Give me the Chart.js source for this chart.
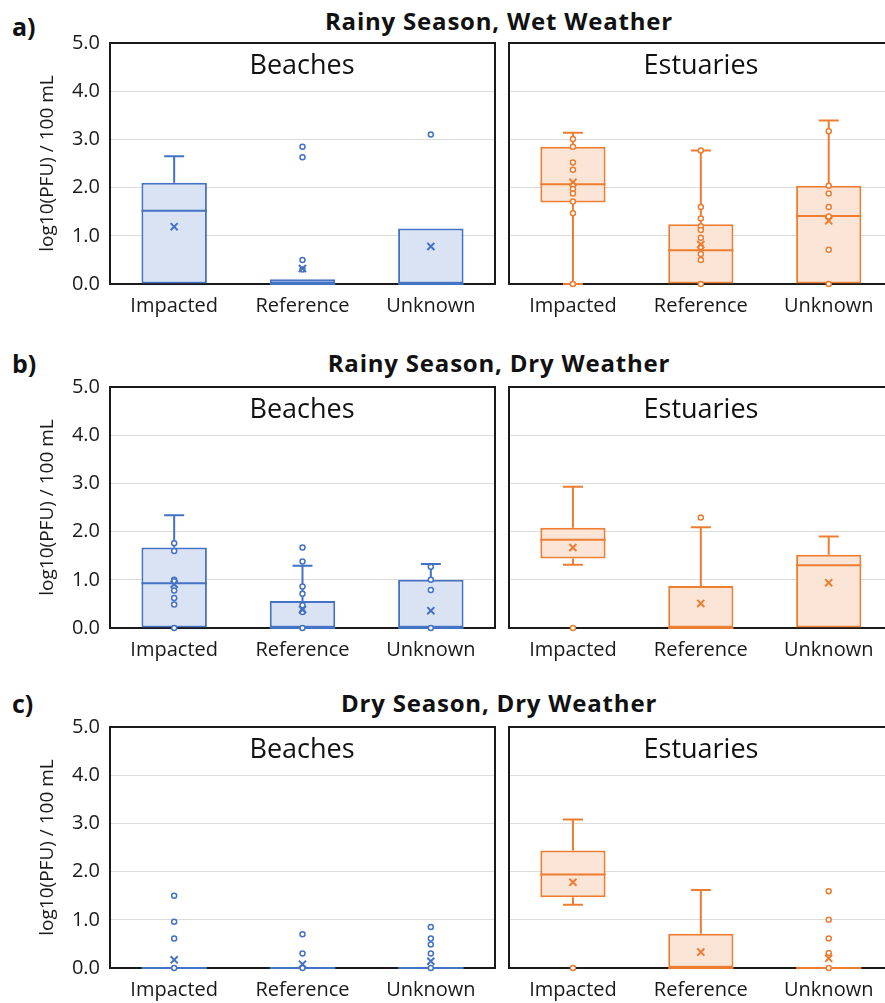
<!DOCTYPE html>
<html>
<head>
<meta charset="utf-8">
<script src="https://cdn.jsdelivr.net/npm/chart.js@4.4.1/dist/chart.umd.min.js"></script>
<style>
    html, body { margin: 0; padding: 0; background: #fff; overflow: hidden; width: 885px; height: 1003px; }
    body { position: relative; font-family: 'Open Sans', sans-serif; color: #111; }
    .rowtitle { position: absolute; left: 499px; font-weight: bold; font-size: 24px; letter-spacing: 0.8px; white-space: nowrap; transform: translate(-50%, -50%); }
    .letter { position: absolute; left: 12px; font-weight: bold; font-size: 25px; transform: translateY(-50%); }
    canvas { position: absolute; }
</style>
</head>
<body>
<div class="letter" style="top:26px">a)</div>
<div class="rowtitle" style="top:20px">Rainy Season, Wet Weather</div>
<canvas id="aBeaches" width="500" height="293" style="left:0;top:31px"></canvas>
<canvas id="aEstuaries" width="385" height="293" style="left:500px;top:31px"></canvas>

<div class="letter" style="top:363px">b)</div>
<div class="rowtitle" style="top:362px">Rainy Season, Dry Weather</div>
<canvas id="bBeaches" width="500" height="293" style="left:0;top:375px"></canvas>
<canvas id="bEstuaries" width="385" height="293" style="left:500px;top:375px"></canvas>

<div class="letter" style="top:703px">c)</div>
<div class="rowtitle" style="top:702px">Dry Season, Dry Weather</div>
<canvas id="cBeaches" width="500" height="293" style="left:0;top:715px"></canvas>
<canvas id="cEstuaries" width="385" height="293" style="left:500px;top:715px"></canvas>

<script>
const categories = ['Impacted', 'Reference', 'Unknown'];
const yTicks = [0, 1, 2, 3, 4, 5];

// box per category: [whisker low, q1, median, q3, whisker high]
// a) Rainy season, wet weather
const aBeachBoxes = [[0, 0, 1.52, 2.10, 2.65], [0, 0, 0, 0.10, 0.10], [0, 0, 0, 1.15, 1.15]];
const aBeachMeans = [1.19, 0.32, 0.78];
const aBeachPoints = [[], [2.85, 2.63, 0.50, 0.30], [3.10]];

const aEstuaryBoxes = [[0, 1.69, 2.07, 2.85, 3.14], [0, 0, 0.70, 1.24, 2.77], [0, 0, 1.41, 2.04, 3.39]];
const aEstuaryMeans = [2.11, 0.82, 1.31];
const aEstuaryPoints = [
    [3.01, 2.85, 2.52, 2.37, 2.05, 1.97, 1.88, 1.71, 1.47, 0],
    [2.77, 1.60, 1.36, 1.20, 1.12, 0.96, 0.77, 0.62, 0.50, 0],
    [3.17, 2.04, 1.88, 1.60, 1.40, 0.71, 0]
];

// b) Rainy season, dry weather
const bBeachBoxes = [[0, 0, 0.93, 1.67, 2.34], [0, 0, 0, 0.56, 1.29], [0, 0, 0, 1.00, 1.33]];
const bBeachMeans = [0.91, 0.38, 0.36];
const bBeachPoints = [
    [1.76, 1.60, 1.00, 0.97, 0.78, 0.62, 0.49, 0],
    [1.67, 1.38, 0.86, 0.71, 0.47, 0.33, 0],
    [1.27, 1.00, 0.79, 0]
];

const bEstuaryBoxes = [[1.31, 1.44, 1.83, 2.08, 2.93], [0, 0, 0, 0.87, 2.09], [0, 0, 1.30, 1.52, 1.90]];
const bEstuaryMeans = [1.67, 0.51, 0.94];
const bEstuaryPoints = [[0], [2.29], []];

// c) Dry season, dry weather
const cBeachBoxes = [[0, 0, 0, 0, 0], [0, 0, 0, 0, 0], [0, 0, 0, 0, 0]];
const cBeachMeans = [0.17, 0.08, 0.14];
const cBeachPoints = [[1.50, 0.96, 0.61, 0], [0.70, 0.30, 0], [0.85, 0.61, 0.49, 0.30, 0]];

const cEstuaryBoxes = [[1.31, 1.47, 1.94, 2.44, 3.08], [0, 0, 0, 0.71, 1.62], [0, 0, 0, 0, 0]];
const cEstuaryMeans = [1.78, 0.33, 0.20];
const cEstuaryPoints = [[0], [], [1.59, 1.00, 0.61, 0.31, 0]];

const BLUE = '#4472C4', BLUE_FILL = '#DAE3F3';
const ORANGE = '#ED7D31', ORANGE_FILL = '#FBE5D6';

Chart.defaults.font.family = "'Open Sans', sans-serif";
Chart.defaults.color = '#1a1a1a';

// whiskers, caps and median lines, drawn right after the boxes
const boxParts = {
    id: 'boxParts',
    afterDatasetDraw(chart, args, opts) {
        if (args.index !== 0) return;
        const ctx = chart.ctx;
        const x = chart.scales.x, y = chart.scales.y;
        const bars = chart.getDatasetMeta(0).data;
        ctx.save();
        ctx.strokeStyle = opts.color;
        ctx.lineWidth = 2;
        opts.boxes.forEach((b, i) => {
            const cx = x.getPixelForValue(i);
            const half = bars[i].width / 2;
            const [lo, q1, med, q3, hi] = b;
            ctx.beginPath();
            if (hi > q3) {
                ctx.moveTo(cx, y.getPixelForValue(q3));
                ctx.lineTo(cx, y.getPixelForValue(hi));
                ctx.moveTo(cx - 10, y.getPixelForValue(hi));
                ctx.lineTo(cx + 10, y.getPixelForValue(hi));
            }
            if (lo < q1) {
                ctx.moveTo(cx, y.getPixelForValue(q1));
                ctx.lineTo(cx, y.getPixelForValue(lo));
                ctx.moveTo(cx - 10, y.getPixelForValue(lo));
                ctx.lineTo(cx + 10, y.getPixelForValue(lo));
            }
            ctx.moveTo(cx - half, y.getPixelForValue(med));
            ctx.lineTo(cx + half, y.getPixelForValue(med));
            ctx.stroke();
        });
        ctx.restore();
    }
};

// black frame round the plot and the panel name inside it
// (right-hand panels are cut by the picture edge, so they get no right side)
const panelFrame = {
    id: 'panelFrame',
    beforeDatasetsDraw(chart, args, opts) {
        const {ctx, chartArea: a} = chart;
        ctx.save();
        ctx.strokeStyle = '#1a1a1a';
        ctx.lineWidth = 2;
        ctx.beginPath();
        if (opts.closed) {
            ctx.rect(a.left, a.top, a.right - a.left, a.bottom - a.top);
        } else {
            ctx.moveTo(a.right, a.top);
            ctx.lineTo(a.left, a.top);
            ctx.lineTo(a.left, a.bottom);
            ctx.lineTo(a.right, a.bottom);
        }
        ctx.stroke();
        ctx.restore();
    },
    afterDraw(chart, args, opts) {
        const {ctx, chartArea: a} = chart;
        ctx.save();
        ctx.font = "27px 'Open Sans', sans-serif";
        ctx.fillStyle = '#111';
        ctx.textAlign = 'center';
        ctx.textBaseline = 'middle';
        ctx.fillText(opts.text, opts.titleX, a.top + 23);
        ctx.restore();
    }
};

function makeChart(id, name, boxes, means, points, color, fill, leftSide) {
    const pointData = [];
    points.forEach((list, i) => list.forEach(v => pointData.push({x: i, y: v})));
    // right-hand panels are cropped: their x range ends before the last half-category
    const xMax = leftSide ? 2.5 : 2.44;

    new Chart(document.getElementById(id), {
        type: 'bar',
        data: {
            datasets: [{
                data: boxes.map((b, i) => ({x: i, y: [b[1], b[3]]})),
                backgroundColor: fill,
                borderColor: color,
                borderWidth: 2,
                borderSkipped: false,
                barPercentage: 0.51,
                categoryPercentage: 1,
                order: 3
            }, {
                type: 'line',
                showLine: false,
                data: pointData,
                pointStyle: 'circle',
                pointRadius: 2.5,
                pointBorderWidth: 1.5,
                pointBorderColor: color,
                pointBackgroundColor: '#fff',
                clip: false,
                order: 2
            }, {
                type: 'line',
                showLine: false,
                data: means.map((m, i) => ({x: i, y: m})),
                pointStyle: 'crossRot',
                pointRadius: 5,
                pointBorderWidth: 2,
                pointBorderColor: color,
                clip: false,
                order: 1
            }]
        },
        options: {
            responsive: false,
            animation: false,
            events: [],
            layout: {
                autoPadding: false,
                padding: { top: 12, right: leftSide ? 5 : 0, left: 0, bottom: 0 }
            },
            plugins: {
                legend: { display: false },
                tooltip: { enabled: false },
                boxParts: { boxes: boxes, color: color },
                panelFrame: { text: name, closed: leftSide, titleX: leftSide ? 302 : 201 }
            },
            scales: {
                x: {
                    type: 'linear',
                    min: -0.5, max: xMax,
                    offset: false,
                    grid: { display: false },
                    border: { display: false },
                    afterBuildTicks: s => { s.ticks = categories.map((c, i) => ({value: i})); },
                    ticks: { font: { size: 20 }, padding: 2, maxRotation: 0, callback: v => categories[v] },
                    afterFit: s => { s.height = 40; s.paddingLeft = 0; s.paddingRight = 0; }
                },
                y: {
                    min: 0, max: 5,
                    grid: { color: '#dcdcdc', lineWidth: 1, drawTicks: false },
                    border: { display: false },
                    afterBuildTicks: s => { s.ticks = yTicks.map(v => ({value: v})); },
                    ticks: {
                        display: leftSide,
                        font: { size: 20 },
                        padding: 10,
                        callback: v => v.toFixed(1)
                    },
                    title: {
                        display: leftSide,
                        text: 'log10(PFU) / 100 mL',
                        font: { size: 19 },
                        padding: { top: 36, bottom: 0 }
                    },
                    afterFit: s => { s.width = leftSide ? 110 : 9; s.paddingTop = 0; s.paddingBottom = 0; }
                }
            }
        },
        plugins: [boxParts, panelFrame]
    });
}

makeChart('aBeaches', 'Beaches', aBeachBoxes, aBeachMeans, aBeachPoints, BLUE, BLUE_FILL, true);
makeChart('aEstuaries', 'Estuaries', aEstuaryBoxes, aEstuaryMeans, aEstuaryPoints, ORANGE, ORANGE_FILL, false);
makeChart('bBeaches', 'Beaches', bBeachBoxes, bBeachMeans, bBeachPoints, BLUE, BLUE_FILL, true);
makeChart('bEstuaries', 'Estuaries', bEstuaryBoxes, bEstuaryMeans, bEstuaryPoints, ORANGE, ORANGE_FILL, false);
makeChart('cBeaches', 'Beaches', cBeachBoxes, cBeachMeans, cBeachPoints, BLUE, BLUE_FILL, true);
makeChart('cEstuaries', 'Estuaries', cEstuaryBoxes, cEstuaryMeans, cEstuaryPoints, ORANGE, ORANGE_FILL, false);
</script>
</body>
</html>
